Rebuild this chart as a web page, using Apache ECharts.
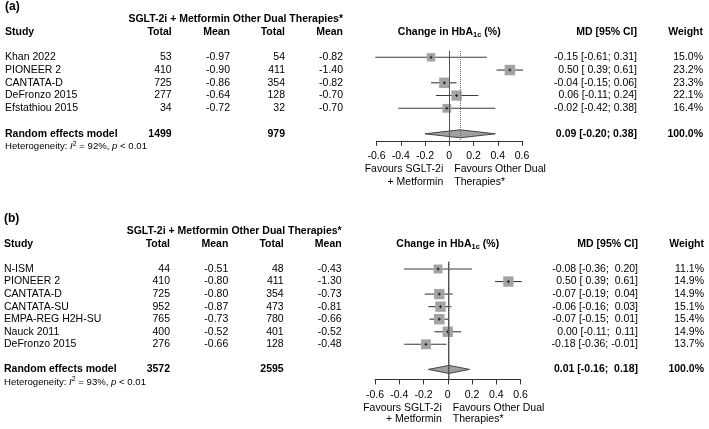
<!DOCTYPE html>
<html>
<head>
<meta charset="utf-8">
<script src="https://cdn.jsdelivr.net/npm/echarts@6/dist/echarts.min.js"></script>
<style>
html, body { margin: 0; padding: 0; background: #fff; }
#main { width: 709px; height: 429px; }
</style>
</head>
<body>
<div id="main"></div>
<script>
// panel (a)
var studiesA = ['Khan 2022', 'PIONEER 2', 'CANTATA-D', 'DeFronzo 2015', 'Efstathiou 2015'];
var sgltTotalA = [53, 410, 725, 277, 34];
var sgltMeanA = [-0.97, -0.90, -0.86, -0.64, -0.72];
var otherTotalA = [54, 411, 354, 128, 32];
var otherMeanA = [-0.82, -1.40, -0.82, -0.70, -0.70];
var mdA = [-0.15, 0.50, -0.04, 0.06, -0.02];
var lowerA = [-0.61, 0.39, -0.15, -0.11, -0.42];
var upperA = [0.31, 0.61, 0.06, 0.24, 0.38];
var weightA = [15.0, 23.2, 23.3, 22.1, 16.4];
var pooledA = [0.09, -0.20, 0.38];
var pooledTotalsA = [1499, 979];
var hetA = ['92%', '< 0.01'];

// panel (b)
var studiesB = ['N-ISM', 'PIONEER 2', 'CANTATA-D', 'CANTATA-SU', 'EMPA-REG H2H-SU', 'Nauck 2011', 'DeFronzo 2015'];
var sgltTotalB = [44, 410, 725, 952, 765, 400, 276];
var sgltMeanB = [-0.51, -0.80, -0.80, -0.87, -0.73, -0.52, -0.66];
var otherTotalB = [48, 411, 354, 473, 780, 401, 128];
var otherMeanB = [-0.43, -1.30, -0.73, -0.81, -0.66, -0.52, -0.48];
var mdB = [-0.08, 0.50, -0.07, -0.06, -0.07, 0.00, -0.18];
var lowerB = [-0.36, 0.39, -0.19, -0.16, -0.15, -0.11, -0.36];
var upperB = [0.20, 0.61, 0.04, 0.03, 0.01, 0.11, -0.01];
var weightB = [11.1, 14.9, 14.9, 15.1, 15.4, 14.9, 13.7];
var pooledB = [0.01, -0.16, 0.18];
var pooledTotalsB = [3572, 2595];
var hetB = ['93%', '< 0.01'];

var xTicks = [-0.6, -0.4, -0.2, 0, 0.2, 0.4, 0.6];

var FONT = '"Liberation Sans", Arial, sans-serif';

function padCol(arr) {
    var s = arr.map(function (v) { return v.toFixed(2); });
    var n = 0;
    s.forEach(function (x) { if (x.length > n) n = x.length; });
    return s.map(function (x) { return new Array(n - x.length + 1).join(' ') + x; });
}

function buildPanel(p, gi) {
    var n = p.studies.length;
    var lo = padCol(p.lower.concat([p.pooled[1]]));
    var hi = padCol(p.upper.concat([p.pooled[2]]));
    var c = p.cols;
    var lines = [];
    lines.push({ k: -3, cells: [{ x: c.study, t: p.tag, b: true, size: 12 }] });
    lines.push({ k: -2, cells: [
        { x: c.m1, t: 'SGLT-2i + Metformin', b: true, a: 'right' },
        { x: c.m2, t: 'Other Dual Therapies*', b: true, a: 'right' }
    ] });
    lines.push({ k: -1, cells: [
        { x: c.study, t: 'Study', b: true },
        { x: c.t1, t: 'Total', b: true, a: 'right' },
        { x: c.m1, t: 'Mean', b: true, a: 'right' },
        { x: c.t2, t: 'Total', b: true, a: 'right' },
        { x: c.m2, t: 'Mean', b: true, a: 'right' },
        { x: 0, rel: true, a: 'center', t: '{b|Change in HbA}{s|1c}{b| (%)}', rich: {
            b: { fontFamily: FONT, fontWeight: 'bold', fontSize: 10.5, lineHeight: 14, verticalAlign: 'middle' },
            s: { fontFamily: FONT, fontWeight: 'bold', fontSize: 7.5, lineHeight: 14, verticalAlign: 'bottom' }
        } },
        { x: c.md, t: 'MD [95% CI]', b: true, a: 'right' },
        { x: c.w, t: 'Weight', b: true, a: 'right' }
    ] });
    for (var i = 0; i < n; i++) {
        lines.push({ k: i + 1, cells: [
            { x: c.study, t: p.studies[i] },
            { x: c.t1, t: String(p.t1[i]), a: 'right' },
            { x: c.m1, t: p.m1[i].toFixed(2), a: 'right' },
            { x: c.t2, t: String(p.t2[i]), a: 'right' },
            { x: c.m2, t: p.m2[i].toFixed(2), a: 'right' },
            { x: c.md, t: p.md[i].toFixed(2) + ' [' + lo[i] + '; ' + hi[i] + ']', a: 'right' },
            { x: c.w, t: p.weight[i].toFixed(1) + '%', a: 'right' }
        ] });
    }
    lines.push({ k: n + 2, cells: [
        { x: c.study, t: 'Random effects model', b: true },
        { x: c.t1, t: String(p.totals[0]), b: true, a: 'right' },
        { x: c.t2, t: String(p.totals[1]), b: true, a: 'right' },
        { x: c.md, t: p.pooled[0].toFixed(2) + ' [' + lo[n] + '; ' + hi[n] + ']', b: true, a: 'right' },
        { x: c.w, t: '100.0%', b: true, a: 'right' }
    ] });
    lines.push({ k: n + 3, cells: [
        { x: c.study, t: '{n|Heterogeneity: }{i|I}{u|2}{n| = ' + p.het[0] + ', }{i|p}{n| ' + p.het[1] + '}', rich: {
            n: { fontFamily: FONT, fontSize: 9.6, lineHeight: 12, verticalAlign: 'middle' },
            i: { fontFamily: FONT, fontSize: 9.6, fontStyle: 'italic', lineHeight: 12, verticalAlign: 'middle' },
            u: { fontFamily: FONT, fontSize: 7, lineHeight: 12, verticalAlign: 'top' }
        } }
    ] });
    // favours labels under the axis
    var fav = p.yMax + 2.25;
    lines.push({ k: fav, cells: [
        { x: -6, rel: true, a: 'right', t: 'Favours SGLT-2i' },
        { x: 5, rel: true, a: 'left', t: 'Favours Other Dual' }
    ] });
    lines.push({ k: fav + 0.95, cells: [
        { x: -6, rel: true, a: 'right', t: '+ Metformin' },
        { x: 5, rel: true, a: 'left', t: 'Therapies*' }
    ] });

    var wmax = Math.max.apply(null, p.weight);
    var ciData = p.md.map(function (v, i) { return [v, p.lower[i], p.upper[i], i + 1, p.weight[i]]; });

    var grid = {
        left: p.left, width: p.width,
        top: p.rowY + (p.yMin - 1) * p.step,
        height: (p.yMax - p.yMin) * p.step
    };
    var xAxis = {
        gridIndex: gi, type: 'value',
        min: xTicks[0], max: xTicks[xTicks.length - 1], interval: 0.2,
        axisLine: { show: true, onZero: false, lineStyle: { color: '#333', width: 1 } },
        axisTick: { show: true, length: 5, lineStyle: { color: '#333' } },
        splitLine: { show: false },
        axisLabel: {
            color: '#000', fontFamily: FONT, fontSize: 10.5, margin: 10,
            formatter: function (v) { return Math.abs(v) < 1e-9 ? '0' : v.toFixed(1); }
        }
    };
    var yAxis = { gridIndex: gi, type: 'value', inverse: true, min: p.yMin, max: p.yMax, show: false };

    var series = [];
    series.push({
        type: 'custom', xAxisIndex: gi, yAxisIndex: gi, z: 3, silent: true,
        data: ciData,
        renderItem: function (params, api) {
            var y = api.coord([0, api.value(3)])[1];
            var xm = api.coord([api.value(0), 0])[0];
            var xl = api.coord([api.value(1), 0])[0];
            var xh = api.coord([api.value(2), 0])[0];
            var s = 10.5 * Math.sqrt(api.value(4) / wmax);
            return { type: 'group', children: [
                { type: 'line', shape: { x1: xl, y1: y, x2: xh, y2: y }, style: { stroke: '#3a3a3a', lineWidth: 1.1 } },
                { type: 'rect', shape: { x: xm - s / 2, y: y - s / 2, width: s, height: s }, style: { fill: '#a3a3a3' } },
                { type: 'line', shape: { x1: xm, y1: y - 1.5, x2: xm, y2: y + 1.5 }, style: { stroke: '#222', lineWidth: 1 } },
                { type: 'line', shape: { x1: xm - 1.5, y1: y, x2: xm + 1.5, y2: y }, style: { stroke: '#222', lineWidth: 1 } }
            ] };
        }
    });
    series.push({
        type: 'custom', xAxisIndex: gi, yAxisIndex: gi, z: 2, silent: true,
        data: [[p.pooled[0], p.pooled[1], p.pooled[2], n + 2]],
        renderItem: function (params, api) {
            var y = api.coord([0, api.value(3)])[1];
            var xm = api.coord([api.value(0), 0])[0];
            var xl = api.coord([api.value(1), 0])[0];
            var xh = api.coord([api.value(2), 0])[0];
            return { type: 'polygon', shape: { points: [[xl, y], [xm, y - 4], [xh, y], [xm, y + 4]] },
                style: { fill: '#a0a0a0', stroke: '#444', lineWidth: 1 } };
        },
        markLine: {
            silent: true, symbol: ['none', 'none'], label: { show: false }, animation: false,
            data: [
                { xAxis: 0, lineStyle: { type: 'solid', color: '#555', width: 1 } },
                { xAxis: p.pooled[0], lineStyle: { type: 'dotted', color: '#666', width: 1 } }
            ]
        }
    });
    series.push({
        type: 'custom', xAxisIndex: gi, yAxisIndex: gi, z: 4, silent: true,
        data: lines.map(function (l) { return [0, l.k]; }),
        renderItem: function (params, api) {
            var line = lines[params.dataIndex];
            var pt = api.coord([0, api.value(1)]);
            var kids = line.cells.map(function (cell) {
                var st = {
                    text: cell.t, fill: '#000', fontFamily: FONT, fontSize: cell.size || 10.5,
                    fontWeight: cell.b ? 'bold' : 'normal', align: cell.a || 'left', verticalAlign: 'middle'
                };
                if (cell.rich) st.rich = cell.rich;
                return { type: 'text', x: cell.rel ? pt[0] + cell.x : cell.x, y: pt[1], style: st };
            });
            return { type: 'group', children: kids };
        }
    });
    return { grid: grid, xAxis: xAxis, yAxis: yAxis, series: series };
}

var panelA = buildPanel({
    tag: '(a)', studies: studiesA, t1: sgltTotalA, m1: sgltMeanA, t2: otherTotalA, m2: otherMeanA,
    md: mdA, lower: lowerA, upper: upperA, weight: weightA, pooled: pooledA, totals: pooledTotalsA, het: hetA,
    left: 376.5, width: 145.5, rowY: 57.3, step: 12.75, yMin: 0.5, yMax: 7.55,
    cols: { study: 5, t1: 171.7, m1: 230, t2: 285, m2: 343, md: 637, w: 703 }
}, 0);
var panelB = buildPanel({
    tag: '(b)', studies: studiesB, t1: sgltTotalB, m1: sgltMeanB, t2: otherTotalB, m2: otherMeanB,
    md: mdB, lower: lowerB, upper: upperB, weight: weightB, pooled: pooledB, totals: pooledTotalsB, het: hetB,
    left: 375, width: 145.5, rowY: 269, step: 12.55, yMin: 0.42, yMax: 9.8,
    cols: { study: 4, t1: 170, m1: 228.3, t2: 283.7, m2: 341.7, md: 638, w: 704 }
}, 1);

var myChart = echarts.init(document.getElementById('main'), null, { renderer: 'canvas' });
var option = {
    animation: false,
    backgroundColor: '#fff',
    grid: [panelA.grid, panelB.grid],
    xAxis: [panelA.xAxis, panelB.xAxis],
    yAxis: [panelA.yAxis, panelB.yAxis],
    series: panelA.series.concat(panelB.series)
};
myChart.setOption(option);
</script>
</body>
</html>
